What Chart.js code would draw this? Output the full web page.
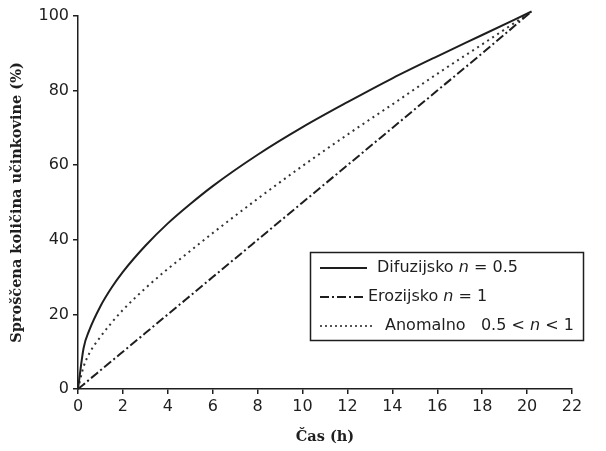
<!DOCTYPE html>
<html>
<head>
<meta charset="utf-8">
<script src="https://cdn.jsdelivr.net/npm/chart.js@4.4.0/dist/chart.umd.min.js"></script>
<style>
  body { margin: 0; background: #fff; }
  canvas { display: block; }
</style>
</head>
<body>
<canvas id="myChart" width="606" height="451"></canvas>
<script>
// time points (h)
const times = [0, 0.25, 0.5, 1, 1.5, 2, 3, 4, 5, 6, 8, 10, 12, 14, 16, 18, 20.2];
// released amount (%)
const difuzijsko = [0, 11, 15.7, 22.2, 27.2, 31.4, 38.4, 44.4, 49.6, 54.4, 62.8, 70.2, 76.9, 83.3, 89.2, 94.9, 101.2];
const erozijsko = [0, 1.2, 2.5, 5, 7.5, 10, 15, 20, 25, 30, 40, 50, 60, 70, 80, 90, 101.2];
const anomalno = [0, 6, 9.5, 14, 17.8, 21.2, 27, 32.2, 37, 41.8, 51, 59.8, 68.2, 76.3, 84.5, 92.4, 101.2];

const xTicks = [0, 2, 4, 6, 8, 10, 12, 14, 16, 18, 20, 22];
const yTicks = [0, 20, 40, 60, 80, 100];

const ink = '#1e1e1e';
const sans = '"DejaVu Sans", Arial, sans-serif';
const serif = '"DejaVu Serif", "Times New Roman", serif';

function toPoints(ys) {
  return times.map((t, i) => ({ x: t, y: ys[i] }));
}

// legend drawn inside the plot, with italic n
const legendBox = {
  id: 'legendBox',
  afterDraw(chart) {
    const ctx = chart.ctx;
    ctx.save();
    ctx.strokeStyle = ink;
    ctx.lineWidth = 1.5;
    ctx.strokeRect(310.5, 252.5, 273, 88);

    const rows = [
      { y: 268, x1: 320, x2: 367, dash: [], parts: [['Difuzijsko ', false], ['n', true], [' = 0.5', false]], tx: 377 },
      { y: 297, x1: 320, x2: 366, dash: [9, 3, 2, 3], parts: [['Erozijsko ', false], ['n', true], [' = 1', false]], tx: 368 },
      { y: 326, x1: 320, x2: 372, dash: [2, 3], parts: [['Anomalno   0.5 < ', false], ['n', true], [' < 1', false]], tx: 385 }
    ];
    rows.forEach(r => {
      ctx.beginPath();
      ctx.setLineDash(r.dash);
      ctx.lineWidth = r.dash.length === 2 ? 1.5 : 2;
      ctx.moveTo(r.x1, r.y);
      ctx.lineTo(r.x2, r.y);
      ctx.stroke();
      ctx.setLineDash([]);
      let x = r.tx;
      ctx.fillStyle = ink;
      ctx.textBaseline = 'middle';
      r.parts.forEach(([txt, it]) => {
        ctx.font = (it ? 'italic ' : '') + '16px ' + sans;
        ctx.fillText(txt, x, r.y);
        x += ctx.measureText(txt).width;
      });
    });
    ctx.restore();
  }
};

const ctx = document.getElementById('myChart').getContext('2d');
const myChart = new Chart(ctx, {
  type: 'line',
  data: {
    datasets: [
      {
        label: 'Difuzijsko n = 0.5',
        data: toPoints(difuzijsko),
        borderColor: ink,
        borderWidth: 2,
        pointRadius: 0,
        cubicInterpolationMode: 'monotone',
        clip: false,
        fill: false
      },
      {
        label: 'Erozijsko n = 1',
        data: toPoints(erozijsko),
        borderColor: ink,
        borderWidth: 2,
        borderDash: [9, 3, 2, 3],
        pointRadius: 0,
        cubicInterpolationMode: 'monotone',
        clip: false,
        fill: false
      },
      {
        label: 'Anomalno 0.5 < n < 1',
        data: toPoints(anomalno),
        borderColor: '#333',
        borderWidth: 2,
        borderDash: [2, 4],
        pointRadius: 0,
        cubicInterpolationMode: 'monotone',
        clip: false,
        fill: false
      }
    ]
  },
  options: {
    responsive: false,
    animation: false,
    layout: { padding: { top: 16, right: 34, left: 0, bottom: 0 } },
    plugins: {
      legend: { display: false },
      tooltip: { enabled: false }
    },
    scales: {
      x: {
        type: 'linear',
        min: 0,
        max: 22,
        afterBuildTicks: s => { s.ticks = xTicks.map(v => ({ value: v })); },
        afterFit: s => { s.height = 62; },
        grid: { drawOnChartArea: false, drawTicks: true, tickLength: 5, color: ink, lineWidth: 1.5 },
        border: { color: ink, width: 1.5 },
        ticks: {
          color: ink,
          padding: 3,
          maxRotation: 0,
          font: { family: sans, size: 16 }
        },
        title: {
          display: true,
          text: 'Čas (h)',
          color: ink,
          padding: { top: 0, bottom: 5 },
          font: { family: serif, size: 14.5, weight: 'bold' }
        }
      },
      y: {
        min: 0,
        max: 100,
        afterBuildTicks: s => { s.ticks = yTicks.map(v => ({ value: v })); },
        afterFit: s => { s.width = 78; },
        grid: { drawOnChartArea: false, drawTicks: true, tickLength: 5, color: ink, lineWidth: 1.5 },
        border: { color: ink, width: 1.5 },
        ticks: {
          color: ink,
          padding: 4,
          font: { family: sans, size: 16 }
        },
        title: {
          display: true,
          text: 'Sproščena količina učinkovine (%)',
          color: ink,
          padding: { top: 9, bottom: 0 },
          font: { family: serif, size: 14.5, weight: 'bold' }
        }
      }
    }
  },
  plugins: [legendBox]
});
</script>
</body>
</html>
